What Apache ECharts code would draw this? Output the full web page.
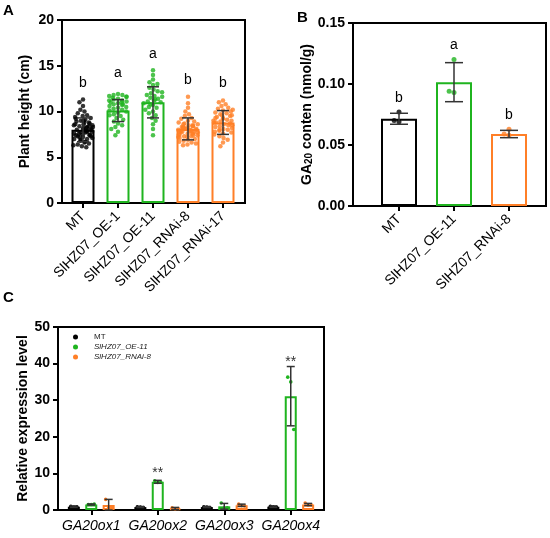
<!DOCTYPE html>
<html>
<head>
<meta charset="utf-8">
<script src="https://cdn.jsdelivr.net/npm/echarts@6.0.0/dist/echarts.min.js"></script>
<style>
html, body { margin: 0; padding: 0; background: #fff; }
#chart { width: 550px; height: 538px; }
</style>
</head>
<body>
<div id="chart"></div>
<script>
// ---- panel A: plant height ----
var heightGroups = ['MT', 'SlHZ07_OE-1', 'SlHZ07_OE-11', 'SlHZ07_RNAi-8', 'SlHZ07_RNAi-17'];
var heightMean = [8.0, 10.1, 11.0, 8.1, 8.8];
var heightSd = [1.3, 1.2, 1.7, 1.2, 1.3];
var heightLetters = ['b', 'a', 'a', 'b', 'b'];
var heightLetterY = [13.1, 14.2, 16.3, 13.4, 13.1];
var heightTicks = [0, 5, 10, 15, 20];
var heightMT = [11.3, 11.0, 10.6, 10.2, 10.0, 9.8, 9.6, 9.5, 9.4, 9.3, 9.2, 9.1, 9.0, 8.9, 8.8, 8.8, 8.7, 8.6, 8.5, 8.5,
  8.4, 8.3, 8.3, 8.2, 8.2, 8.1, 8.0, 8.0, 7.9, 7.9, 7.8, 7.8, 7.7, 7.7, 7.6, 7.6, 7.5, 7.5, 7.4, 7.3,
  7.3, 7.2, 7.1, 7.0, 7.0, 6.9, 6.8, 6.7, 6.6, 6.5, 6.4, 6.3, 6.2, 6.1, 8.6, 8.1, 7.4, 9.0, 8.4, 7.2];
var heightOE1 = [11.9, 11.8, 11.8, 11.7, 11.6, 11.6, 11.5, 11.4, 11.3, 11.2, 11.2, 11.1, 11.0, 10.9, 10.8, 10.7, 10.6, 10.5, 10.4,
  10.3, 10.2, 10.1, 10.0, 9.9, 9.7, 9.5, 9.3, 9.1, 8.9, 8.7, 8.5, 8.3, 8.1, 7.8, 7.4, 10.8, 11.0, 9.6];
var heightOE11 = [14.5, 14.0, 13.5, 13.2, 12.9, 12.6, 12.4, 12.2, 12.0, 11.8, 11.7, 11.5, 11.4, 11.2, 11.1, 11.0, 10.9, 10.7,
  10.5, 10.4, 10.2, 10.0, 9.8, 9.6, 9.3, 9.0, 8.6, 8.1, 7.4, 11.6, 12.1, 10.8, 11.3, 13.0];
var heightRNAi8 = [11.6, 10.9, 10.4, 10.0, 9.7, 9.5, 9.3, 9.2, 9.0, 8.9, 8.8, 8.7, 8.6, 8.5, 8.5, 8.4, 8.3, 8.3, 8.2, 8.2,
  8.1, 8.1, 8.0, 8.0, 7.9, 7.9, 7.8, 7.8, 7.8, 7.7, 7.7, 7.6, 7.6, 7.5, 7.5, 7.4, 7.4, 7.3, 7.3, 7.2,
  7.1, 7.0, 6.9, 6.8, 6.7, 6.6, 6.5, 6.4, 6.3, 8.6, 8.0, 7.6, 8.2, 7.9, 7.2, 8.4];
var heightRNAi17 = [11.2, 11.0, 10.8, 10.6, 10.4, 10.3, 10.1, 10.0, 9.9, 9.8, 9.7, 9.6, 9.5, 9.4, 9.3, 9.2, 9.1, 9.0, 8.9,
  8.8, 8.8, 8.7, 8.6, 8.5, 8.4, 8.3, 8.2, 8.1, 8.0, 7.9, 7.8, 7.7, 7.6, 7.5, 7.3, 7.1, 6.9, 6.6, 6.2,
  9.6, 9.0, 8.5, 10.2, 8.0, 9.3];

// ---- panel B: GA20 content ----
var gaGroups = ['MT', 'SlHZ07_OE-11', 'SlHZ07_RNAi-8'];
var gaMean = [0.0715, 0.1015, 0.059];
var gaSd = [0.0045, 0.016, 0.003];
var gaLetters = ['b', 'a', 'b'];
var gaLetterY = [0.0885, 0.132, 0.0746];
var gaTicks = [0, 0.05, 0.10, 0.15];
var gaMT = [0.077, 0.069, 0.070];
var gaOE11 = [0.120, 0.093, 0.094];
var gaRNAi8 = [0.063, 0.058, 0.059];

// ---- panel C: relative expression ----
var genes = ['GA20ox1', 'GA20ox2', 'GA20ox3', 'GA20ox4'];
var lines = ['MT', 'SlHZ07_OE-11', 'SlHZ07_RNAi-8'];
var exprMT = [0.9, 0.8, 0.8, 0.9];
var exprMTSd = [0.2, 0.15, 0.15, 0.2];
var exprOE = [1.5, 7.7, 1.0, 31.1];
var exprOESd = [0.15, 0.4, 0.8, 8.1];
var exprRNAi = [1.4, 0.4, 1.3, 1.5];
var exprRNAiSd = [1.5, 0.3, 0.3, 0.3];
var exprMTPts = [[1.0, 0.8, 0.9], [0.9, 0.8, 0.7], [0.9, 0.8, 0.7], [1.0, 0.9, 0.8]];
var exprOEPts = [[1.5, 1.5, 1.6], [8.0, 7.5, 7.6], [1.9, 0.5, 0.6], [36.3, 35.0, 22.0]];
var exprRNAiPts = [[2.9, 0.6, 0.8], [0.6, 0.3, 0.4], [1.6, 1.2, 1.1], [1.9, 1.3, 1.4]];
var exprStars = ['', '**', '', '**'];
var exprStarY = [0, 10.1, 0, 40.4];
var exprTicks = [0, 10, 20, 30, 40, 50];

// styles
var BLACK = '#000000', GREEN = '#1fb41f', ORANGE = '#ff7f27', ERR = '#333333';
var FONT = 'Arial, "Liberation Sans", sans-serif';
var heightColors = [BLACK, GREEN, GREEN, ORANGE, ORANGE];
var gaColors = [BLACK, GREEN, ORANGE];
var lineColors = [BLACK, GREEN, ORANGE];
var C_BAR_W = 12, C_GAP = 0.45;
var C_STEP = C_BAR_W * (1 + C_GAP);

function errorRender(capHalf, step) {
  return function (params, api) {
    var x = api.value(0), m = api.value(1), s = api.value(2), k = api.value(3);
    var off = step ? (k - 1) * step : 0;
    var hi = api.coord([x, m + s]), lo = api.coord([x, Math.max(0, m - s)]);
    var cx = hi[0] + off;
    var st = { stroke: ERR, lineWidth: 1.5 };
    return {
      type: 'group',
      children: [
        { type: 'line', shape: { x1: cx, y1: hi[1], x2: cx, y2: lo[1] }, style: st },
        { type: 'line', shape: { x1: cx - capHalf, y1: hi[1], x2: cx + capHalf, y2: hi[1] }, style: st },
        { type: 'line', shape: { x1: cx - capHalf, y1: lo[1], x2: cx + capHalf, y2: lo[1] }, style: st }
      ]
    };
  };
}

function textRender(labels, fontSize, color) {
  return function (params, api) {
    var p = api.coord([api.value(0), api.value(1)]);
    return {
      type: 'text',
      x: p[0], y: p[1],
      style: { text: labels[params.dataIndex], fill: color, font: fontSize + 'px ' + FONT, align: 'center', verticalAlign: 'middle' }
    };
  };
}

function pts(idx, arr) {
  return arr.map(function (v) { return [idx, v]; });
}

function catAxis(grid, data, rotate, italic, jitter) {
  return {
    gridIndex: grid, type: 'category', data: data,
    jitter: jitter || 0, jitterOverlap: false, jitterMargin: 0,
    axisLine: { show: false },
    axisTick: { show: true, alignWithLabel: true, length: 5, lineStyle: { color: BLACK, width: 2 } },
    axisLabel: { rotate: rotate, interval: 0, margin: rotate ? 11 : 9, color: BLACK, fontSize: 14, fontFamily: FONT,
      fontStyle: italic ? 'italic' : 'normal' }
  };
}

function valAxis(grid, ticks, name, nameGap, fmt) {
  return {
    gridIndex: grid, type: 'value', min: ticks[0], max: ticks[ticks.length - 1], interval: ticks[1] - ticks[0],
    name: name, nameLocation: 'middle', nameRotate: 90, nameGap: nameGap,
    nameTextStyle: { color: BLACK, fontSize: 14, fontWeight: 'bold', fontFamily: FONT,
      rich: {
        n: { fontSize: 14, fontWeight: 'bold', fontFamily: FONT, color: BLACK, lineHeight: 16, verticalAlign: 'bottom' },
        s: { fontSize: 10, fontWeight: 'bold', fontFamily: FONT, color: BLACK, lineHeight: 9, verticalAlign: 'bottom' }
      } },
    axisLine: { show: true, lineStyle: { color: BLACK, width: 2 } },
    axisTick: { show: true, length: 5, lineStyle: { color: BLACK, width: 2 } },
    axisLabel: { margin: 8, color: BLACK, fontSize: 14, fontWeight: 'bold', fontFamily: FONT, formatter: fmt },
    splitLine: { show: false }
  };
}

function hiddenVal(grid, ticks) {
  return { gridIndex: grid, type: 'value', min: ticks[0], max: ticks[ticks.length - 1], show: false };
}

var frame = { show: true, borderColor: BLACK, borderWidth: 2, backgroundColor: 'transparent' };

var heightSets = [heightMT, heightOE1, heightOE11, heightRNAi8, heightRNAi17];
var gaSets = [gaMT, gaOE11, gaRNAi8];
var exprMeans = [exprMT, exprOE, exprRNAi];
var exprSds = [exprMTSd, exprOESd, exprRNAiSd];
var exprPts = [exprMTPts, exprOEPts, exprRNAiPts];

var series = [];

// A
series.push({
  type: 'bar', name: 'heightBars', xAxisIndex: 1, yAxisIndex: 1, barWidth: 23, z: 1,
  data: heightMean.map(function (v, i) {
    return { value: v, itemStyle: { color: 'rgba(255,255,255,0)', borderColor: heightColors[i], borderWidth: 2 } };
  })
});
heightSets.forEach(function (set, i) {
  series.push({
    type: 'scatter', xAxisIndex: 1, yAxisIndex: 1, symbolSize: 4.5, z: 2,
    itemStyle: { color: heightColors[i] }, data: pts(i, set)
  });
});
series.push({
  type: 'custom', xAxisIndex: 1, yAxisIndex: 1, z: 3, renderItem: errorRender(6),
  data: heightMean.map(function (m, i) { return [i, m, heightSd[i], 0]; })
});
series.push({
  type: 'custom', xAxisIndex: 1, yAxisIndex: 1, z: 3, renderItem: textRender(heightLetters, 14, BLACK),
  data: heightLetterY.map(function (y, i) { return [i, y]; })
});

// B
series.push({
  type: 'bar', name: 'gaBars', xAxisIndex: 3, yAxisIndex: 3, barWidth: 36, z: 1,
  data: gaMean.map(function (v, i) {
    return { value: v, itemStyle: { color: 'rgba(255,255,255,0)', borderColor: gaColors[i], borderWidth: 2 } };
  })
});
gaSets.forEach(function (set, i) {
  series.push({
    type: 'scatter', xAxisIndex: 3, yAxisIndex: 3, symbolSize: 5, z: 2,
    itemStyle: { color: gaColors[i] }, data: pts(i, set)
  });
});
series.push({
  type: 'custom', xAxisIndex: 3, yAxisIndex: 3, z: 3, renderItem: errorRender(9),
  data: gaMean.map(function (m, i) { return [i, m, gaSd[i], 0]; })
});
series.push({
  type: 'custom', xAxisIndex: 3, yAxisIndex: 3, z: 3, renderItem: textRender(gaLetters, 14, BLACK),
  data: gaLetterY.map(function (y, i) { return [i, y]; })
});

// C
lines.forEach(function (name, k) {
  series.push({
    type: 'bar', name: name, xAxisIndex: 4, yAxisIndex: 4, barWidth: C_BAR_W, barGap: (C_GAP * 100) + '%', z: 1,
    itemStyle: { color: 'rgba(255,255,255,0)', borderColor: lineColors[k], borderWidth: 2 },
    data: exprMeans[k]
  });
});
var errData = [], ptData = [];
lines.forEach(function (name, k) {
  genes.forEach(function (g, i) {
    errData.push([i, exprMeans[k][i], exprSds[k][i], k]);
    exprPts[k][i].forEach(function (v, j) { ptData.push([i, v, k, j]); });
  });
});
series.push({
  type: 'custom', xAxisIndex: 4, yAxisIndex: 4, z: 3, renderItem: errorRender(4, C_STEP), data: errData
});
series.push({
  type: 'custom', xAxisIndex: 4, yAxisIndex: 4, z: 2, data: ptData,
  renderItem: function (params, api) {
    var k = api.value(2), j = api.value(3);
    var p = api.coord([api.value(0), api.value(1)]);
    return {
      type: 'circle',
      shape: { cx: p[0] + (k - 1) * C_STEP + (j - 1) * 3, cy: p[1], r: 1.8 },
      style: { fill: lineColors[k] }
    };
  }
});
series.push({
  type: 'custom', xAxisIndex: 4, yAxisIndex: 4, z: 3, renderItem: textRender(exprStars, 14, ERR),
  data: exprStarY.map(function (y, i) { return [i, y]; })
});

var option = {
  animation: false,
  backgroundColor: '#fff',
  textStyle: { fontFamily: FONT },
  title: [
    { text: 'A', left: 3, top: 3, padding: 0, textStyle: { fontSize: 15, fontWeight: 'bold', color: BLACK, fontFamily: FONT } },
    { text: 'B', left: 297, top: 10, padding: 0, textStyle: { fontSize: 15, fontWeight: 'bold', color: BLACK, fontFamily: FONT } },
    { text: 'C', left: 3, top: 290, padding: 0, textStyle: { fontSize: 15, fontWeight: 'bold', color: BLACK, fontFamily: FONT } }
  ],
  legend: {
    orient: 'vertical', left: 68, top: 328, icon: 'circle', itemWidth: 5, itemHeight: 5, itemGap: 2,
    selectedMode: false,
    textStyle: { fontSize: 8, color: '#222', fontFamily: FONT, padding: [0, 0, 0, 11] },
    data: [
      { name: lines[0], itemStyle: { color: BLACK, borderWidth: 0 } },
      { name: lines[1], itemStyle: { color: GREEN, borderWidth: 0 }, textStyle: { fontStyle: 'italic' } },
      { name: lines[2], itemStyle: { color: ORANGE, borderWidth: 0 }, textStyle: { fontStyle: 'italic' } }
    ]
  },
  grid: [
    Object.assign({ left: 62, top: 20, width: 183, height: 183 }, frame),
    { left: 65.5, top: 20, width: 175, height: 183 },
    Object.assign({ left: 353, top: 23, width: 193, height: 183 }, frame),
    { left: 371.5, top: 23, width: 165, height: 183 },
    Object.assign({ left: 58, top: 327, width: 266, height: 183 }, frame)
  ],
  xAxis: [
    { gridIndex: 0, type: 'value', show: false },
    catAxis(1, heightGroups, 45, false, 20),
    { gridIndex: 2, type: 'value', show: false },
    catAxis(3, gaGroups, 45, false, 16),
    catAxis(4, genes, 0, true, 0)
  ],
  yAxis: [
    valAxis(0, heightTicks, 'Plant height (cm)', 30),
    hiddenVal(1, heightTicks),
    valAxis(2, gaTicks, '{n|GA}{s|20}{n| conten (nmol/g)}', 28, function (v) { return v.toFixed(2); }),
    hiddenVal(3, gaTicks),
    valAxis(4, exprTicks, 'Relative expression level', 18)
  ],
  series: series
};

var myChart = echarts.init(document.getElementById('chart'));
myChart.setOption(option);
</script>
</body>
</html>
